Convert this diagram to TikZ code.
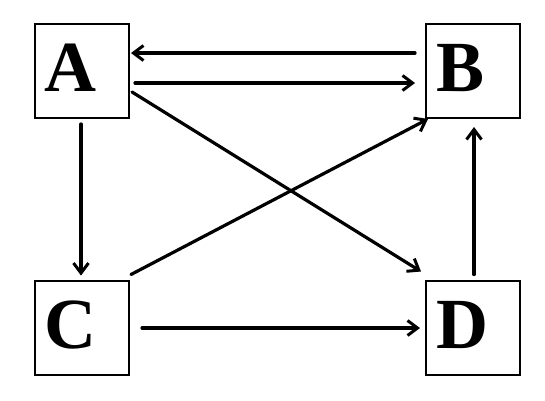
\documentclass[tikz,border=0pt]{standalone}
\usepackage{fontspec}
\setmainfont{Liberation Serif}
\usetikzlibrary{arrows.meta}
\begin{document}
\begin{tikzpicture}[x=1pt,y=-1pt,
  boxnode/.style={draw,line width=2pt,minimum width=94pt,minimum height=94pt,inner sep=0pt},
  letter/.style={anchor=base,inner sep=0pt,font=\fontsize{72}{72}\selectfont\bfseries},
  conn/.style={line width=3.2pt,-{Straight Barb[length=10pt,width=15pt,line width=3pt]},line cap=round}]
\useasboundingbox (0,0) rectangle (545,400);
\node[boxnode] (A) at (82,71) {};
\node[boxnode] (B) at (473,71) {};
\node[boxnode] (C) at (82,327.5) {};
\node[boxnode] (D) at (473,327.5) {};
\node[letter] (la) at (70.5,91) {A};
\node[letter] (lb) at (461,91) {B};
\node[letter] (lc) at (70,348) {C};
\node[letter] (ld) at (462,348) {D};
\draw[conn,shorten <=10pt] ([yshift=18pt]B.west) -- ([yshift=18pt,xshift=1pt]A.east);
\draw[conn,shorten <=5pt,shorten >=10pt] ([yshift=-12pt]A.east) -- ([yshift=-12pt]B.west);
\draw[conn] ([shift={(2pt,-21pt)}]A.east) -- ([shift={(-4pt,8pt)}]D.north west);
\draw[conn] ([shift={(1pt,5pt)}]C.north east) -- ([shift={(3pt,0pt)}]B.south west);
\draw[conn,shorten <=5pt,shorten >=4pt] ([xshift=-1pt]A.south) -- ([xshift=-1pt]C.north);
\draw[conn,shorten <=5pt,shorten >=8pt] ([xshift=1pt]D.north) -- ([xshift=1pt]B.south);
\draw[conn,shorten <=12pt,shorten >=5pt] ([yshift=-0.5pt]C.east) -- ([yshift=-0.5pt]D.west);
\end{tikzpicture}
\end{document}
